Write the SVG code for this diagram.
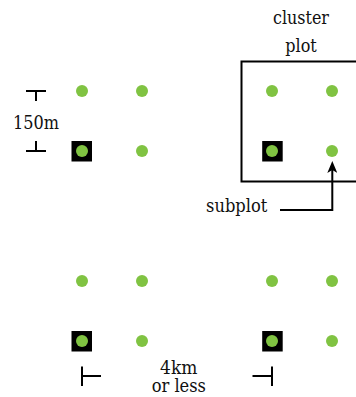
<svg xmlns="http://www.w3.org/2000/svg" width="356" height="397" viewBox="0 0 356 397">
<style>
  .dot { fill: #80c342; }
  .sq { fill: #000; }
  .ln { stroke: #000; stroke-width: 2; fill: none; }
  text { font-family: "DejaVu Serif", "Liberation Serif", serif; font-size: 19px; fill: #111; text-anchor: middle; }
</style>
<defs>
  <marker id="arr" viewBox="0 0 12 10" refX="3" refY="5" markerWidth="12" markerHeight="10" markerUnits="userSpaceOnUse" orient="auto">
    <path d="M12,5 L0,0 L3,5 L0,10 Z" fill="#000"/>
  </marker>
</defs>
<rect width="356" height="397" fill="#fff"/>

<g id="cluster-box">
  <rect class="ln" x="241.5" y="61.5" width="130" height="120"/>
  <text x="301" y="24" textLength="56" lengthAdjust="spacingAndGlyphs">cluster</text>
  <text x="301" y="51.5" textLength="31.5" lengthAdjust="spacingAndGlyphs">plot</text>
</g>

<g id="plot-top-left">
  <rect class="sq" x="71.5" y="141" width="20.5" height="20.5"/>
  <circle class="dot" cx="82" cy="91" r="6"/>
  <circle class="dot" cx="142" cy="91" r="6"/>
  <circle class="dot" cx="82" cy="151" r="6"/>
  <circle class="dot" cx="142" cy="151" r="6"/>
</g>

<g id="plot-top-right">
  <rect class="sq" x="262.2" y="141" width="20.5" height="20.5"/>
  <circle class="dot" cx="272" cy="91" r="6"/>
  <circle class="dot" cx="332" cy="91" r="6"/>
  <circle class="dot" cx="272" cy="151" r="6"/>
  <circle class="dot" cx="332" cy="151" r="6"/>
</g>

<g id="plot-bottom-left">
  <rect class="sq" x="71.5" y="331" width="20.5" height="20.5"/>
  <circle class="dot" cx="82" cy="281" r="6"/>
  <circle class="dot" cx="142" cy="281" r="6"/>
  <circle class="dot" cx="82" cy="341" r="6"/>
  <circle class="dot" cx="142" cy="341" r="6"/>
</g>

<g id="plot-bottom-right">
  <rect class="sq" x="262.2" y="331" width="20.5" height="20.5"/>
  <circle class="dot" cx="272" cy="281" r="6"/>
  <circle class="dot" cx="332" cy="281" r="6"/>
  <circle class="dot" cx="272" cy="341" r="6"/>
  <circle class="dot" cx="332" cy="341" r="6"/>
</g>

<g id="scale-150m">
  <path class="ln" d="M26,91 H46 M36,91 V101 M26,151 H46 M36,151 V141"/>
  <text x="36" y="129" textLength="46" lengthAdjust="spacingAndGlyphs">150m</text>
</g>

<g id="scale-4km">
  <path class="ln" d="M82,366.5 V386 M82,376 H101 M272,366.5 V386 M272,376 H252.5"/>
  <text x="178.7" y="374" font-size="18" textLength="37.3" lengthAdjust="spacingAndGlyphs">4km</text>
  <text x="178.8" y="392" font-size="18" textLength="54.3" lengthAdjust="spacingAndGlyphs">or less</text>
</g>

<g id="subplot-label">
  <text x="236.7" y="212" textLength="61.3" lengthAdjust="spacingAndGlyphs">subplot</text>
</g>

<g id="connectors">
  <path class="ln" d="M280,210 H332.3 V170" marker-end="url(#arr)"/>
</g>
</svg>
